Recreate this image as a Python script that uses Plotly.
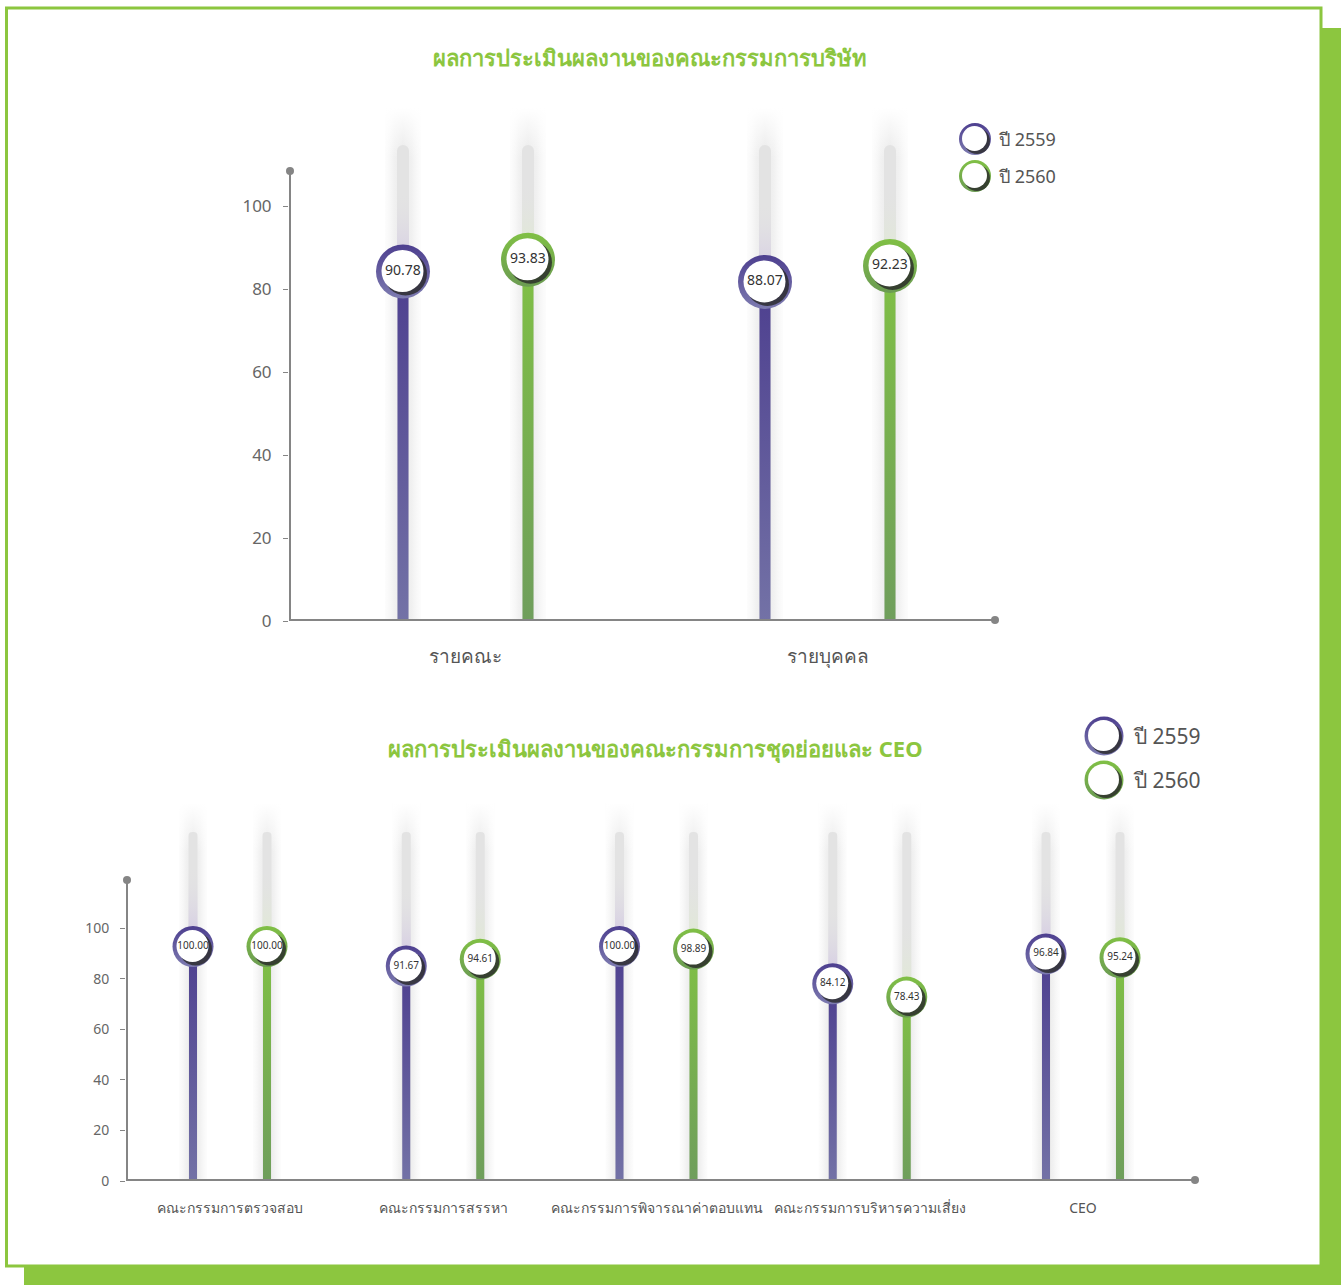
import plotly.graph_objects as go

W, H = 1341, 1285

# ---------------- data ----------------
titles = ["ผลการประเมินผลงานของคณะกรรมการบริษัท",
          "ผลการประเมินผลงานของคณะกรรมการชุดย่อยและ CEO"]
series_names = ["ปี 2559", "ปี 2560"]

top_categories = ["รายคณะ", "รายบุคคล"]
top_2559 = [90.78, 88.07]
top_2560 = [93.83, 92.23]

bottom_categories = ["คณะกรรมการตรวจสอบ", "คณะกรรมการสรรหา",
                     "คณะกรรมการพิจารณาค่าตอบแทน", "คณะกรรมการบริหารความเสี่ยง", "CEO"]
bottom_2559 = [100.00, 91.67, 100.00, 84.12, 96.84]
bottom_2560 = [100.00, 94.61, 98.89, 78.43, 95.24]

y_ticks = [0, 20, 40, 60, 80, 100]

# ---------------- styles ----------------
GREEN = "#8cc63f"
AXIS = "#858585"
FONT = "Noto Sans, DejaVu Sans, sans-serif"
SERIES_STYLE = [
    dict(top="#4d3f8f", bottom="#7372a6", ring2="#7d7bb0", tint="rgba(208,196,228,1)"),
    dict(top="#80c045", bottom="#6f9e5c", ring2="#6b9b52", tint="rgba(224,236,208,1)"),
]

PANELS = [
    dict(cats=top_categories, vals=[top_2559, top_2560], xl=289, xr=995, y0=621, ytop=108,
         vis=4.15, dat=3.85, c0=465.5, step=362.0, off=62.5, axis_top=171, track_top=145,
         glow_w=36, track_w=12, bar_w=11, ring=54, white=42, lab=14, tick=17, cat=19,
         standoff=22, xa="x", ya="y", yd="y2"),
    dict(cats=bottom_categories, vals=[bottom_2559, bottom_2560], xl=126, xr=1195, y0=1181, ytop=803,
         vis=2.53, dat=2.345, c0=230.0, step=213.25, off=37, axis_top=880, track_top=832,
         glow_w=28, track_w=9, bar_w=8, ring=41, white=32, lab=10, tick=14, cat=14,
         standoff=17, xa="x3", ya="y3", yd="y4"),
]

fig = go.Figure()
shapes = []
annotations = []


def axname(a):
    return a.replace("x", "xaxis").replace("y", "yaxis")


GLOW_SCALE = [[0, "rgba(250,250,250,0.5)"], [0.25, "rgba(241,241,241,1)"],
              [0.5, "rgba(233,233,233,1)"], [0.75, "rgba(241,241,241,1)"],
              [1, "rgba(250,250,250,0.5)"]]

for p in PANELS:
    n = len(p["cats"])
    step = p["step"]
    dpx = 1.0 / step                 # data-x units per pixel
    dpy = 1.0 / p["dat"]             # data-y units per pixel (data axis)
    vpy = 1.0 / p["vis"]             # visible-axis units per pixel
    yd_top = (p["y0"] - p["ytop"]) * dpy
    yv_top = (p["y0"] - p["ytop"]) * vpy
    track_top = (p["y0"] - p["track_top"]) * dpy
    xr = [(p["xl"] - p["c0"]) / step, (p["xr"] - p["c0"]) / step]
    for s, vals in enumerate(p["vals"]):
        st = SERIES_STYLE[s]
        sign = -1 if s == 0 else 1
        xs = [i + sign * p["off"] * dpx for i in range(n)]
        gw = p["glow_w"] * dpx / 2
        for xc in xs:
            # soft glow (on the lower, visible-axis layer)
            fig.add_trace(go.Scatter(
                x=[xc - gw, xc + gw, xc + gw, xc - gw, xc - gw], y=[0, 0, yv_top, yv_top, 0],
                xaxis=p["xa"], yaxis=p["ya"], mode="lines", line=dict(width=0), fill="toself",
                fillgradient=dict(type="horizontal", colorscale=GLOW_SCALE),
                hoverinfo="skip", showlegend=False))
            fz = 50 * vpy
            fig.add_trace(go.Scatter(
                x=[xc - gw, xc + gw, xc + gw, xc - gw, xc - gw],
                y=[yv_top - fz, yv_top - fz, yv_top, yv_top, yv_top - fz],
                xaxis=p["xa"], yaxis=p["ya"], mode="lines", line=dict(width=0), fill="toself",
                fillgradient=dict(type="vertical", start=yv_top - fz, stop=yv_top,
                                  colorscale=[[0, "rgba(255,255,255,0)"], [1, "rgba(255,255,255,1)"]]),
                hoverinfo="skip", showlegend=False))
        # track
        fig.add_trace(go.Bar(
            x=xs, y=[track_top] * n, width=p["track_w"] * dpx, xaxis=p["xa"], yaxis=p["yd"],
            marker=dict(color="#e3e3e3", cornerradius=p["track_w"] / 2, line=dict(width=0)),
            hoverinfo="skip", showlegend=False))
        for xc, v in zip(xs, vals):
            tw = p["track_w"] * dpx / 2
            tl = 80 * dpy
            fig.add_trace(go.Scatter(
                x=[xc - tw, xc + tw, xc + tw, xc - tw, xc - tw], y=[v, v, v + tl, v + tl, v],
                xaxis=p["xa"], yaxis=p["yd"], mode="lines", line=dict(width=0), fill="toself",
                fillgradient=dict(type="vertical", start=v, stop=v + tl,
                                  colorscale=[[0, st["tint"]], [1, "rgba(227,227,227,0)"]]),
                hoverinfo="skip", showlegend=False))
            bw = p["bar_w"] * dpx / 2
            fig.add_trace(go.Scatter(
                x=[xc - bw, xc + bw, xc + bw, xc - bw, xc - bw], y=[0, 0, v, v, 0],
                xaxis=p["xa"], yaxis=p["yd"], mode="lines", line=dict(width=0), fill="toself",
                fillgradient=dict(type="vertical", start=0, stop=v,
                                  colorscale=[[0, st["bottom"]], [1, st["top"]]]),
                hoverinfo="skip", showlegend=False))
        # marker ring
        fig.add_trace(go.Scatter(
            x=xs, y=vals, xaxis=p["xa"], yaxis=p["yd"], mode="markers",
            marker=dict(size=p["ring"], color=st["top"], line=dict(width=0),
                        gradient=dict(type="vertical", color=st["ring2"])),
            hoverinfo="skip", showlegend=False, cliponaxis=False))
        # shadow
        fig.add_trace(go.Scatter(
            x=[x + 2.5 * dpx for x in xs], y=[v - 2.5 * dpy for v in vals],
            xaxis=p["xa"], yaxis=p["yd"], mode="markers",
            marker=dict(size=p["white"] + 1, color="rgba(40,40,40,0.8)", line=dict(width=0)),
            hoverinfo="skip", showlegend=False, cliponaxis=False))
        # white face + value label
        fig.add_trace(go.Scatter(
            x=[x - 0.5 * dpx for x in xs], y=[v + 0.5 * dpy for v in vals],
            xaxis=p["xa"], yaxis=p["yd"], mode="markers",
            marker=dict(size=p["white"], color="white", line=dict(width=0)),
            hoverinfo="skip", showlegend=False, cliponaxis=False))
        fig.add_trace(go.Scatter(
            x=xs, y=vals, xaxis=p["xa"], yaxis=p["yd"], mode="text",
            text=[f"{v:.2f}" for v in vals], textposition="middle center",
            textfont=dict(size=p["lab"], color="#333333", family=FONT),
            hoverinfo="skip", showlegend=False, cliponaxis=False))

    # axes layout
    xdom = [p["xl"] / W, p["xr"] / W]
    ydom = [1 - p["y0"] / H, 1 - p["ytop"] / H]
    fig.layout[axname(p["xa"])] = dict(
        domain=xdom, range=xr, anchor=p["ya"], showgrid=False, zeroline=False, showline=False,
        tickmode="array", tickvals=list(range(n)), ticktext=p["cats"], ticks="", tickangle=0,
        ticklabelstandoff=p["standoff"], tickfont=dict(size=p["cat"], color="#555555", family=FONT),
        automargin=False, fixedrange=True)
    fig.layout[axname(p["ya"])] = dict(
        domain=ydom, range=[0, yv_top], anchor=p["xa"], showgrid=False, zeroline=False,
        showline=False, tickmode="array", tickvals=y_ticks, ticks="outside", ticklen=5,
        tickcolor=AXIS, tickwidth=1, ticklabelstandoff=8, automargin=False,
        tickfont=dict(size=p["tick"], color="#666666", family=FONT), fixedrange=True)
    fig.layout[axname(p["yd"])] = dict(
        domain=ydom, range=[0, yd_top], overlaying=p["ya"], anchor=p["xa"], visible=False,
        fixedrange=True)
    # axis lines (nudged inside the plot area so they are not clipped) and end dots
    ax_top = (p["y0"] - p["axis_top"]) * vpy
    xref_dom = p["xa"] + " domain"
    shapes.append(dict(type="line", xref=xref_dom, yref=p["ya"], xsizemode="pixel", xanchor=0,
                       x0=1, x1=1, y0=0, y1=ax_top, line=dict(color=AXIS, width=2), layer="above"))
    shapes.append(dict(type="line", xref=xref_dom, yref=p["ya"], ysizemode="pixel", yanchor=0,
                       x0=0, x1=1, y0=1, y1=1, line=dict(color=AXIS, width=2), layer="above"))
    fig.add_trace(go.Scatter(
        x=[xr[0] + 1 * dpx, xr[1]], y=[ax_top, 1 * vpy], xaxis=p["xa"], yaxis=p["ya"],
        mode="markers", marker=dict(size=8, color=AXIS, line=dict(width=0)),
        hoverinfo="skip", showlegend=False, cliponaxis=False))

fig.update_layout(barmode="overlay")

# ---------------- pixel overlay axis for legends ----------------
fig.layout["xaxis5"] = dict(domain=[0, 1], range=[0, W], visible=False, fixedrange=True, anchor="y5")
fig.layout["yaxis5"] = dict(domain=[0, 1], range=[H, 0], visible=False, fixedrange=True, anchor="x5")
LEGENDS = [dict(x=975, ys=[139, 176], ring=32, white=25, font=18, tx=997),
           dict(x=1104, ys=[736, 780], ring=39, white=31, font=21, tx=1131)]
for lg in LEGENDS:
    for s, yy in enumerate(lg["ys"]):
        st = SERIES_STYLE[s]
        fig.add_trace(go.Scatter(x=[lg["x"]], y=[yy], xaxis="x5", yaxis="y5", mode="markers",
                                 marker=dict(size=lg["ring"], color=st["top"],
                                             gradient=dict(type="vertical", color=st["ring2"])),
                                 hoverinfo="skip", showlegend=False))
        fig.add_trace(go.Scatter(x=[lg["x"] + 2], y=[yy + 2], xaxis="x5", yaxis="y5", mode="markers",
                                 marker=dict(size=lg["white"] + 1, color="rgba(40,40,40,0.8)"),
                                 hoverinfo="skip", showlegend=False))
        fig.add_trace(go.Scatter(x=[lg["x"] - 0.5], y=[yy - 0.5], xaxis="x5", yaxis="y5", mode="markers",
                                 marker=dict(size=lg["white"], color="white"),
                                 hoverinfo="skip", showlegend=False))
        annotations.append(dict(x=lg["tx"], y=yy, xref="x5", yref="y5", text=series_names[s],
                                showarrow=False, xanchor="left", yanchor="middle",
                                font=dict(size=lg["font"], color="#555555", family=FONT)))

# titles
for t, (cx, cy, fs) in zip(titles, [(650, 57, 22), (655, 748, 22)]):
    annotations.append(dict(x=cx / W, y=1 - cy / H, xref="paper", yref="paper", text=f"<b>{t}</b>",
                            showarrow=False, xanchor="center", yanchor="middle",
                            font=dict(size=fs, color=GREEN, family=FONT)))

# frame: green offset shadow, white card with green border
frame = [
    dict(type="rect", xref="paper", yref="paper", x0=24 / W, x1=1, y0=0, y1=1 - 28 / H,
         fillcolor=GREEN, line=dict(width=0), layer="below"),
    dict(type="rect", xref="paper", yref="paper", x0=6.5 / W, x1=1321 / W, y0=1 - 1266 / H, y1=1 - 8 / H,
         fillcolor="white", line=dict(color=GREEN, width=3), layer="below"),
]

fig.update_layout(
    width=W, height=H, autosize=False, margin=dict(l=0, r=0, t=0, b=0, autoexpand=False),
    paper_bgcolor="white", plot_bgcolor="rgba(0,0,0,0)",
    shapes=frame + shapes, annotations=annotations, showlegend=False,
    font=dict(family=FONT),
)

fig.write_html("out.html", config={"displayModeBar": False, "responsive": False},
               post_script="document.body.style.margin='0';")
